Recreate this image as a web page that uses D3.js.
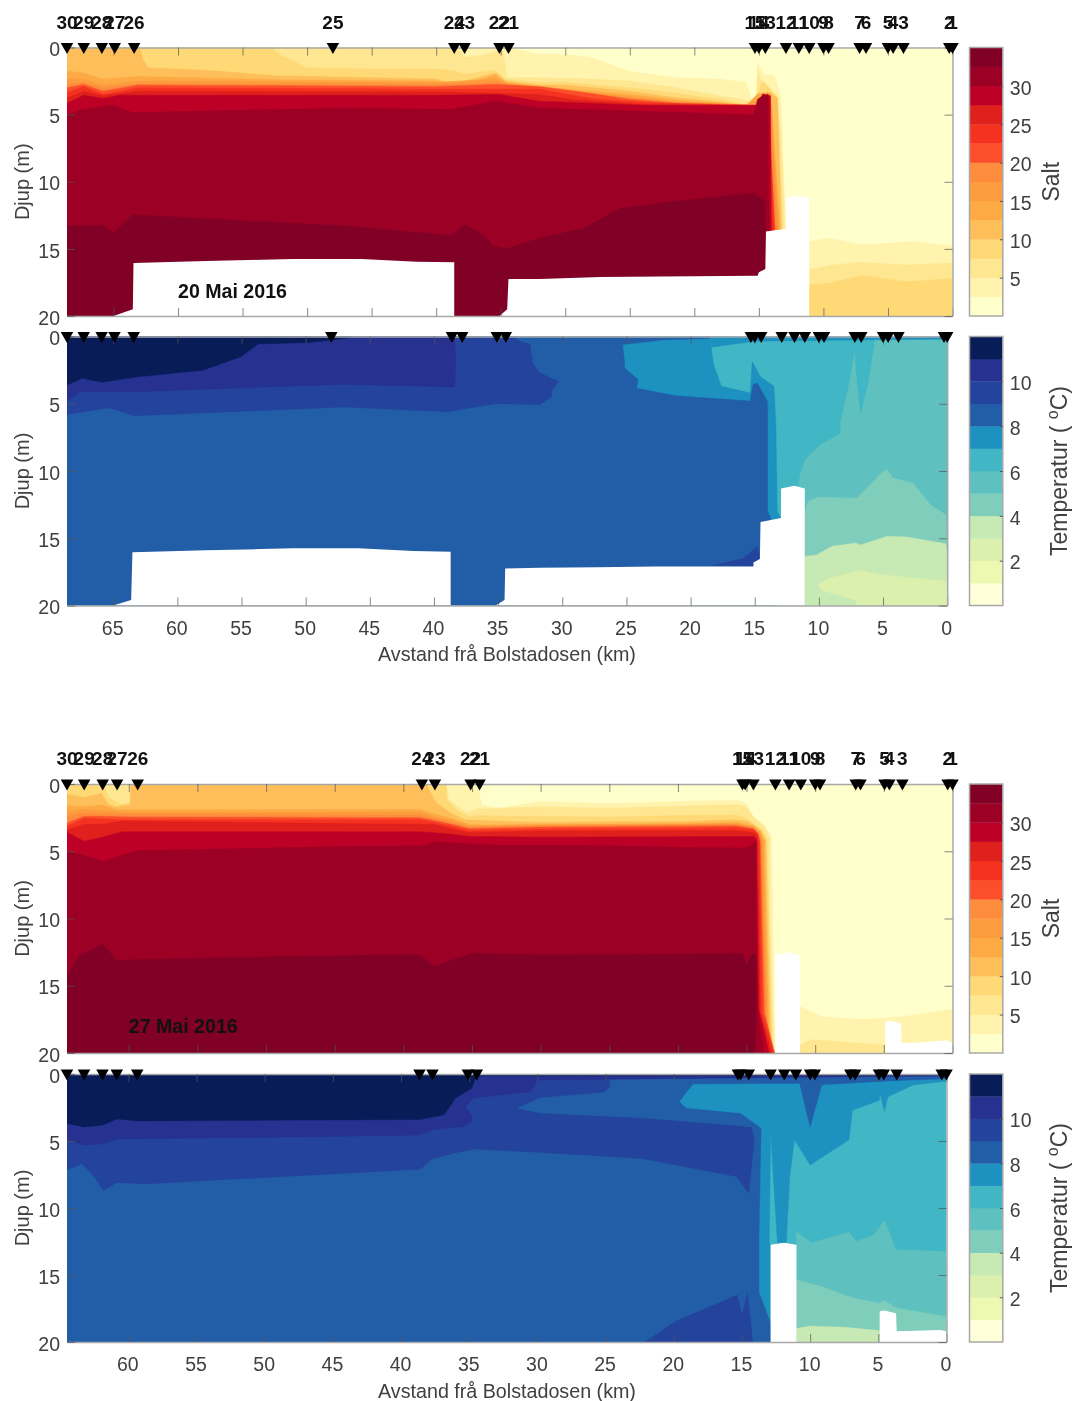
<!DOCTYPE html>
<html><head><meta charset="utf-8">
<script src="https://cdn.jsdelivr.net/npm/d3@7"></script>
<style>
html,body{margin:0;padding:0;background:#fff}
svg{display:block;filter:blur(0.7px)}
text{font-family:"Liberation Sans",Arial,sans-serif}
</style></head><body><div id="c"></div>
<script>
// ---------- colour bands ----------
const saltColors=["#ffffcc","#fff3ad","#fee790","#fed976","#febf5a","#feaa44","#fd9c3e","#fd8d3c","#fc4e2a","#f53220","#e0201c","#bd0026","#9c0025","#800026"];
const tempColors=["#ffffd9","#edf8b1","#dcf0ad","#c7e9b4","#7fcdbb","#5ec0bf","#41b6c4","#1d91c0","#225ea8","#24439c","#27318f","#081d58"];
const saltBandStep=2.5, tempBandStep=1;
const saltTicks=[5,10,15,20,25,30], tempTicks=[2,4,6,8,10];
const depthTicks=[0,5,10,15,20];
const kmTicksMay20=[65,60,55,50,45,40,35,30,25,20,15,10,5,0];
const kmTicksMay27=[60,55,50,45,40,35,30,25,20,15,10,5,0];

// ---------- stations ----------
const stationNames=["30","29","28","27","26","25","24","23","22","21","15","14","13","12","11","10","9","8","7","6","5","4","3","2","1"];
const stationsMay20=[68.6,67.3,65.9,64.9,63.4,48.0,38.6,37.8,35.1,34.4,15.3,15.0,14.5,12.9,11.9,11.1,10.0,9.6,7.2,6.7,5.0,4.6,3.8,0.25,0];
const namesMay27=["30","29","28","27","26","24","23","22","21","15","14","13","12","11","10","9","8","7","6","5","4","3","2","1"];
const stationsMay27=[64.5,63.25,61.9,60.85,59.35,38.65,37.7,35.1,34.45,15.3,15.1,14.5,12.9,11.9,11.05,10,9.65,7.05,6.7,4.95,4.6,3.65,0.35,0];

// ---------- salinity 20 May: [band, [km, depth] boundary], filled down to the floor ----------
const salt20Layers=[
[1,[[68.6,0],[34.5,0],[32,.5],[30,.5],[28,.75],[25.1,1.75],[21.4,2.25],[18,2.35],[16,2.6],[15.6,3.85],[15.2,4.25],[15.1,1.1],[14.6,2],[13.8,2.1],[13.3,3.6],[13.1,8.85],[12.9,13.6]]],
[2,[[68.6,0],[38.3,0],[37.8,.75],[36.4,.6],[35.4,.3],[34.8,.3],[34.5,2.25],[32,2.25],[28,2.35],[25,2.5],[21.4,3],[18,3.6],[16.3,3.85],[15.2,4.25],[15.1,1.6],[14.7,2.9],[13.6,3.5],[13.3,6.4],[13,13.5]]],
[3,[[68.6,0],[52.8,0],[52,.6],[50,1.5],[45,1.6],[40,1.6],[38.6,1.75],[37.8,2],[35.4,1.7],[34.6,2.4],[32,2.6],[30,2.6],[25,3],[21.4,3.4],[18,3.85],[16,4.25],[15.2,4.3],[15.1,3.5],[14.7,2.5],[14.1,3.1],[13.55,3.85],[13.2,13.5]]],
[4,[[68.6,0],[63,0],[62.7,.9],[62.3,1.5],[57.8,1.7],[52.4,2.1],[50,2.15],[40,2.35],[38.6,2.75],[37.8,2.5],[35.4,1.9],[34.6,2.5],[32,2.8],[30,2.8],[25,3.25],[21.4,3.75],[18,4.05],[16,4.3],[15.1,3.5],[14.3,3.3],[13.55,3.75],[13.25,13.5]]],
[5,[[68.6,1.75],[67.3,1.9],[65.8,2.35],[63.1,2.15],[52.4,2.4],[40,2.5],[38.6,2.9],[35.4,2.05],[34.6,2.6],[32,2.9],[25,3.5],[21.4,3.9],[18,4.15],[16,4.35],[15.1,3.45],[14.1,3.45],[13.35,13.5]]],
[6,[[68.6,2.35],[67.3,2.35],[65.8,2.8],[63.1,2.5],[40,2.6],[35.4,2.35],[34.3,2.75],[32,3],[25,3.65],[21.4,4.05],[16,4.3],[14.1,3.5],[13.45,13.5]]],
[7,[[68.6,2.75],[67.4,2.6],[65.8,3],[63.1,2.7],[40,2.75],[35.4,2.6],[33.8,2.8],[32,3.05],[25,3.75],[21.4,4.1],[15.1,4.3],[14.1,3.55],[13.6,13.5]]],
[8,[[68.6,3],[67.3,2.75],[65.8,3.25],[63.1,2.8],[40,2.9],[35.4,2.75],[32,2.9],[28.5,3.35],[25.1,3.85],[21.4,4.15],[15.1,4.3],[14.3,3.4],[13.75,13.5]]],
[9,[[68.6,3.35],[67.3,2.9],[65.8,3.5],[63.1,3],[40,3.1],[32,3.1],[28,3.8],[24,4.1],[15.1,4.35],[14.3,3.45],[13.8,13.5]]],
[10,[[68.6,3.75],[67.3,3.25],[65.8,3.6],[63.1,3.25],[40,3.3],[32,3.5],[29.3,3.9],[24,4.25],[15.1,4.35],[14.35,3.5],[13.95,13.5]]],
[11,[[68.6,4.15],[67.3,3.55],[65.8,3.8],[64.5,3.55],[40,3.55],[35.1,3.5],[32,4],[24,4.3],[15.1,4.3],[14.7,3.45],[14.1,3.6],[14.05,13.6]]],
[12,[[68.6,5],[67.4,4.6],[65,4.3],[63.5,4.85],[47,4.5],[38.9,4.6],[35.4,4],[32,4.5],[24,4.75],[15.4,5],[15.1,3.85],[14.7,3.6],[14.3,3.6],[14.2,13.6]]],
[13,[[68.6,13.3],[65.8,13.25],[65,13.8],[63.5,12.45],[47,13.3],[38.9,14],[37.8,13.2],[36.2,14.05],[35.7,14.7],[34.6,15],[32,14.2],[28.5,13.45],[25.8,12],[21.4,11.45],[15.4,10.85],[14.5,11.5]]],
[1,[[11.1,14.45],[9.6,14.2],[7,14.7],[3,14.45],[0,14.8]]],
[2,[[11.1,16.55],[9.6,16.25],[7.3,16],[3.6,16.2],[0,16.05]]],
[3,[[11.1,17.7],[9.6,17.55],[7,17],[3.6,17.45],[0,17.2]]]
];
const seabed20Salt=[
[[65,20],[63.5,19.5],[63.45,16.05],[57.8,15.9],[51.1,15.75],[45.8,15.75],[41.5,15.95],[38.6,16],[38.6,20]],
[[35.1,20],[34.5,19.5],[34.4,17.25],[32,17.25],[27.2,17.1],[22.7,17.05],[15.1,17],[15,16.75],[14.5,16.5],[14.45,13.7],[12.9,13.5],[12.9,11.2],[11.95,11.05],[11.1,11.2],[11.1,20]]
];

// ---------- temperature 20 May: closed [band, [km, depth]] regions ----------
const temp20Regions=[
[4,[[11.1,13],[10.85,12.25],[10.05,11.95],[7,12],[5.3,10.3],[4.7,9.85],[4.25,10.5],[2.65,10.9],[1.3,12.5],[.1,13.25],[0,15],[0,20],[11.1,20]]],
[3,[[11.1,16.35],[10.2,16.25],[9,15.6],[7.1,15.35],[6.75,15.5],[4.7,14.85],[3.1,14.9],[.1,15.4],[0,16.25],[0,20],[11.1,20]]],
[2,[[10.05,18.5],[9.3,18],[6.75,17.4],[5.3,17.7],[0,18.2],[0,20],[7,20],[7.15,19.6],[9.8,18.85]]],
[6,[[20,0],[5.7,0],[5.7,.6],[6.2,3.6],[6.75,5.7],[7,3.6],[7.2,1],[7.8,4.1],[8.35,6.3],[8.35,7.2],[9.95,8.05],[11.1,9.15],[11.5,10.3],[11.65,11.3],[11.65,20],[20,20]]],
[7,[[68.6,0],[0,0],[0,.2],[5.7,.25],[15,.35],[18.4,.8],[18.2,2.1],[17.6,3.7],[15.35,4.2],[15.2,1.85],[14.55,3],[13.5,3.7],[13.35,6.55],[13.25,13],[13,13.5],[13,20],[68.6,20]]],
[8,[[68.6,0],[18.5,0],[18.5,.15],[22,.25],[25.3,.6],[25.15,1.85],[25.15,2.35],[24.1,3.2],[24.2,3.85],[21.2,4.4],[15.35,4.8],[15.15,3.6],[14.8,3.45],[14,4.85],[14,13],[13.75,13.5],[13.75,20],[68.6,20]]],
[9,[[68.6,0],[33.6,0],[33.6,.25],[32.5,.6],[32.3,2],[32,2.4],[31.75,2.7],[30.3,3.35],[30.8,4],[30.8,4.45],[31.75,5.05],[35.2,5],[39,5.6],[47,5.25],[63.4,5.9],[65.3,5.3],[67,5.55],[68.6,5.8]]],
[9,[[18.25,17],[15.9,16.5],[14.8,15.6],[14.6,16.5],[15.1,17.1]]],
[10,[[68.6,0],[38.4,0],[38.3,1.85],[38.4,3.75],[47,3.55],[63.1,4.1],[67.55,4.1],[68.6,4.8]]],
[11,[[68.6,0],[46.4,0],[46.5,.1],[49.7,.45],[53.7,.55],[55.05,1.5],[58,2.5],[63.1,3],[65.9,3.4],[67.4,3.1],[68.6,3.6]]]
];
const seabed20Temp=[
[[65,20],[63.6,19.6],[63.5,16.05],[57.75,15.9],[51,15.75],[45.9,15.75],[41.6,15.95],[38.7,16],[38.7,20]],
[[35.2,20],[34.5,19.6],[34.45,17.25],[31.75,17.2],[27.25,17.15],[22.75,17.1],[15.1,17.1],[15.1,16.8],[14.6,16.55],[14.55,13.8],[12.95,13.5],[12.95,11.3],[11.9,11.1],[11.1,11.3],[11.1,20]]
];

// ---------- salinity 27 May ----------
const salt27Layers=[
[1,[[64.5,0],[34.6,0],[34.3,1.55],[33,1.8],[30.05,1.3],[25,1.45],[20,1.3],[15.7,1.2],[15,1.45],[14.5,2.4],[13.7,3.05],[13.2,3.9],[13.1,9.1],[13,16.8],[12.9,20]]],
[2,[[64.5,0],[36.9,0],[36.7,1.2],[35.75,1.85],[35.3,2.15],[34.7,1.85],[30.05,1.7],[25,1.8],[20,1.65],[15.7,1.55],[15,1.7],[14.5,2.5],[13.75,3.1],[13.35,3.95],[13.3,9],[13.1,17],[13,20]]],
[3,[[64.5,0],[61.8,0],[61.5,1],[60.6,1.5],[59.9,1.4],[59.85,0],[36.9,0],[36.8,1.2],[36,2],[35.2,2.45],[34.7,2.35],[30.05,2.4],[25,2.45],[20,2.35],[15.8,2.3],[15,2.55],[14.4,3],[13.85,3.4],[13.5,4.1],[13.4,9],[13.2,17],[13.1,20]]],
[4,[[64.5,.75],[63.25,1],[62,.7],[61.5,1.5],[60.9,1.7],[59.9,1.5],[59.85,0],[38.3,0],[38.1,.5],[37.6,1.4],[36.5,2.2],[35.5,2.65],[34.7,2.7],[30.05,2.85],[25,2.8],[20,2.8],[15.8,2.65],[15,2.75],[14.4,3.1],[13.95,3.5],[13.6,4.2],[13.5,9],[13.3,17],[13.2,20]]],
[5,[[64.5,1.6],[63.25,1.7],[62,1.55],[60.9,1.9],[59.9,1.9],[38.8,1.9],[37.8,2.2],[36.5,2.55],[35.2,3],[34,3.05],[30.05,3],[20,2.95],[15.8,2.85],[14.5,3.1],[14,3.5],[13.7,4.2],[13.6,9],[13.4,17],[13.3,20]]],
[6,[[64.5,2],[63.25,1.9],[62,1.95],[60,2.1],[38.8,2.1],[37.8,2.4],[36.5,2.7],[35.2,3.1],[30.05,3.05],[15.8,2.95],[14.5,3.2],[14.05,3.6],[13.8,4.3],[13.7,9],[13.5,17],[13.4,20]]],
[7,[[64.5,2.4],[63.25,2.15],[62,2.2],[60,2.25],[38.8,2.3],[37.8,2.55],[36.5,2.85],[35.2,3.2],[30.05,3.1],[15.8,3],[14.5,3.25],[14.1,3.7],[13.9,4.3],[13.8,9],[13.55,17],[13.45,20]]],
[8,[[64.5,2.9],[63.25,2.4],[62,2.4],[60,2.45],[38.8,2.5],[37.8,2.7],[36.5,3],[35.2,3.3],[30.05,3.2],[15.8,3.1],[14.5,3.3],[14.15,3.7],[14,4.3],[13.9,9],[13.7,17],[12.95,20]]],
[9,[[64.5,3.15],[63.25,2.55],[62,2.6],[60,2.65],[38.8,2.65],[37.8,2.85],[36.5,3.15],[35.2,3.45],[30.05,3.35],[15.8,3.25],[14.5,3.4],[14.2,3.7],[14.05,4.3],[14,9],[13.85,17],[13,20]]],
[10,[[64.5,3.4],[63.25,3],[61.9,3],[60.5,2.75],[38.8,3],[37.8,3],[36.5,3.35],[35.2,3.6],[30.05,3.5],[15.8,3.45],[14.5,3.6],[14.25,3.8],[14.15,4.3],[14.1,9],[14,17],[13.15,20]]],
[11,[[64.5,3.6],[63.25,4.25],[61.9,3.95],[60.5,3.55],[38.8,3.55],[36.8,3.7],[35.2,3.9],[30.05,3.95],[15.8,3.9],[14.5,3.9],[14.3,4.05],[14.2,9],[14.1,16.8],[13.35,20]]],
[12,[[64.5,5],[63.25,5.3],[61.9,5.75],[60.9,5.4],[59.4,4.95],[44.3,4.65],[38.6,4.6],[37.8,4.3],[33,4.55],[30.05,4.55],[25,4.6],[20,4.7],[15.2,4.75],[14.7,4.6],[14.3,4.2],[14.25,13],[14.2,16.8],[13.7,20]]],
[13,[[64.5,14.3],[63.7,12.9],[63.25,12.6],[61.9,11.9],[60.9,13.1],[50,12.85],[38.8,12.7],[37.8,13.55],[35,12.6],[30.05,12.7],[20,12.65],[15.3,12.6],[15,13.5],[14.6,12.6],[14.3,12.7],[14.3,16],[14.4,20]]],
[1,[[11.1,16.55],[9.5,17.3],[6.55,17.5],[4.9,17.4],[3.7,17.3],[1.6,17],[0,16.75]]],
[2,[[11.1,19.4],[10.2,19],[7.8,19.2],[4.9,19.4]]]
];
const seabed27Salt=[
[[12.9,20],[12.9,12.7],[11.9,12.5],[11.1,12.75],[11.1,20]],
[[4.9,20],[4.9,17.65],[4.45,17.6],[3.75,17.8],[3.7,19.25],[2.1,19.2],[.4,19.05],[0,19.25],[0,20]]
];

// ---------- temperature 27 May ----------
const temp27Regions=[
[5,[[11,11.75],[9.9,12.6],[7.15,11.8],[6.65,12.5],[5.3,12],[4.55,10.9],[3.7,13.1],[.05,13.25],[0,14.85],[0,20],[11,20]]],
[4,[[11,15.35],[9.15,15.85],[6.9,16.7],[4.9,17.1],[4.55,16.9],[3.7,17.45],[.05,18.1],[0,18.85],[0,20],[11,20]]],
[3,[[11,19],[10,18.8],[7.4,18.9],[4.9,19.15],[4.9,20],[11,20]]],
[7,[[64.5,0],[0,0],[0,.55],[2.4,.8],[4.3,1.7],[4.55,2.8],[4.9,1.3],[4.9,1.95],[6.9,2.7],[7.15,4.9],[10,6.8],[11.15,4.9],[11.5,7.65],[11.75,12.6],[12.4,12.6],[12.9,4.3],[13,12.7],[12.9,12.7],[12.9,20],[64.5,20]]],
[8,[[64.5,0],[0,0],[0,.35],[4,.5],[9.15,.8],[10,3.95],[10.77,.7],[12,.7],[18.6,.75],[19.6,2.05],[19.1,2.55],[15.1,2.95],[13.6,4.05],[13.75,12],[13.75,16.3],[12.9,18.6],[12.9,20],[64.5,20]]],
[9,[[64.5,0],[24.7,0],[24.7,.95],[25.1,1.35],[29.8,1.75],[31.55,2.55],[29.8,2.95],[22.35,3.3],[15.1,3.9],[14.3,4],[14.1,4.9],[14.5,8.9],[15.4,7.65],[22.35,6.3],[29.8,5.85],[34.6,5.6],[36.1,5.9],[37.7,6.35],[38.6,7.1],[46.7,7.55],[58.8,8.2],[60.85,8.1],[61.85,8.7],[62.5,7.65],[63.4,6.7],[64.5,7.15]]],
[9,[[22.1,20],[19.85,18.45],[15.35,16.5],[15,18],[14.6,16.35],[14.2,20]]],
[10,[[64.5,0],[0,0],[0,.15],[30,.45],[30.5,1.3],[34.7,1.8],[35.3,2.45],[34.85,3.05],[34.8,3.55],[35.35,3.9],[37.7,4.15],[38.6,4.55],[44.2,4.65],[60.85,4.85],[61.85,5.2],[63.25,5.3],[64.5,4.9]]],
[11,[[64.5,0],[0,0],[0,.1],[34.45,.15],[34.6,.45],[34.8,1.05],[36,1.8],[36.85,3.05],[38.6,3.4],[59.3,3.5],[60.85,3.35],[61.85,3.8],[63.25,3.95],[64.5,3.7]]]
];
const seabed27Temp=[
[[12.9,20],[12.9,12.75],[11.9,12.6],[11,12.75],[11,20]],
[[4.9,20],[4.9,17.7],[4.55,17.65],[3.7,17.85],[3.65,19.2],[.45,19.1],[0,19.2],[0,20]]
];

// ---------- build ----------
const svg=d3.select("#c").append("svg").attr("width",1072).attr("height",1401);
const defs=svg.append("defs");
const TEXT="#404040", AXIS="#a8a8a8", TICK_FONT=19.5;
const floorClose=p=>p.concat([[p[p.length-1][0],20],[p[0][0],20]]);
let panelId=0;

function drawPanel(o){
  const x=d3.scaleLinear().domain([o.kmMax,0]).range([o.left,o.right]);
  const y=d3.scaleLinear().domain([0,20]).range([o.top,o.bottom]);
  const line=d3.line().x(d=>x(d[0])).y(d=>y(d[1]));
  const g=svg.append("g");
  const cid="plot"+(panelId++);
  defs.append("clipPath").attr("id",cid).append("rect")
    .attr("x",x(o.kmMax)).attr("y",y(0)).attr("width",x(0)-x(o.kmMax)).attr("height",y(20)-y(0));
  const field=g.append("g").attr("clip-path",`url(#${cid})`);
  field.append("rect").attr("x",x(o.kmMax)).attr("y",y(0)).attr("width",x(0)-x(o.kmMax)).attr("height",y(20)-y(0)).attr("fill",o.colors[o.baseBand]);
  field.selectAll("path.band").data(o.regions).join("path").attr("class","band")
    .attr("d",d=>line(o.closeFloor?floorClose(d[1]):d[1])+"Z")
    .attr("fill",d=>o.colors[d[0]]).attr("stroke",d=>o.colors[d[0]]).attr("stroke-width",0.4);
  field.selectAll("path.bed").data(o.seabed).join("path").attr("class","bed")
    .attr("d",d=>line(d)+"Z").attr("fill","#fff");

  // axes with inward ticks on all sides
  const ax=(gen,tx,ty,hideDomain)=>{
    const a=g.append("g").attr("transform",`translate(${tx},${ty})`).call(gen);
    a.selectAll(".domain").attr("stroke",hideDomain?"none":AXIS).attr("stroke-width",1.5);
    a.selectAll(".tick line").attr("stroke","#555").attr("stroke-width",1).attr("stroke-opacity",.7);
    a.selectAll("text").attr("fill",TEXT).attr("font-size",TICK_FONT).attr("font-family",'"Liberation Sans",Arial,sans-serif');
    return a;
  };
  ax(d3.axisBottom(x).tickValues(o.kmTicks).tickSizeInner(-8).tickSizeOuter(0).tickFormat(o.labelX?d3.format("d"):""),0,o.bottom)
    .selectAll("text").attr("y",15.5).attr("dy",".71em").attr("dx",-1);
  ax(d3.axisTop(x).tickValues(o.kmTicks).tickSizeInner(-8).tickSizeOuter(0).tickFormat(""),0,o.top);
  ax(d3.axisLeft(y).tickValues(depthTicks).tickSizeInner(-8).tickSizeOuter(0).tickFormat(d3.format("d")),o.left,0,true)
    .selectAll("text").attr("x",-7).attr("dy",".42em");
  ax(d3.axisRight(y).tickValues(depthTicks).tickSizeInner(-8).tickSizeOuter(0).tickFormat(""),o.right,0);

  // stations
  g.selectAll("path.st").data(o.stations).join("path").attr("class","st")
    .attr("d",d3.symbol(d3.symbolTriangle,68))
    .attr("transform",d=>`translate(${x(d)},${o.top-0.8}) rotate(180)`).attr("fill","#000");
  if(o.names){
    g.selectAll("text.stn").data(o.stations).join("text").attr("class","stn")
      .attr("x",d=>x(d)).attr("y",o.top-25.5).attr("dy",".36em").attr("text-anchor","middle")
      .attr("font-size",19).attr("font-weight","bold").attr("fill","#111").text((d,i)=>o.names[i]);
  }
  // y label
  const midY=(o.top+o.bottom)/2;
  g.append("text").attr("transform",`translate(22,${midY}) rotate(-90)`).attr("text-anchor","middle").attr("dy",".36em")
    .attr("font-size",20).attr("fill",TEXT).text("Djup (m)");

  // colour bar
  const cbX=969.5, cbW=33.3, n=o.colors.length, step=o.step;
  const cy=d3.scaleLinear().domain([0,n*step]).range([o.bottom,o.top]);
  const cb=g.append("g");
  cb.selectAll("rect").data(o.colors).join("rect").attr("x",cbX).attr("width",cbW)
    .attr("y",(c,i)=>cy((i+1)*step)).attr("height",(c,i)=>cy(i*step)-cy((i+1)*step)+.3).attr("fill",c=>c);
  cb.append("rect").attr("x",cbX).attr("y",o.top).attr("width",cbW).attr("height",o.bottom-o.top).attr("fill","none").attr("stroke",AXIS).attr("stroke-width",1.5);
  const ca=g.append("g").attr("transform",`translate(${cbX+cbW},0)`).call(d3.axisRight(cy).tickValues(o.cbTicks).tickSizeInner(-3).tickSizeOuter(0).tickPadding(7));
  ca.select(".domain").remove();
  ca.selectAll(".tick line").attr("stroke","#555");
  ca.selectAll("text").attr("fill",TEXT).attr("font-size",TICK_FONT).attr("font-family",'"Liberation Sans",Arial,sans-serif').attr("x",7).attr("dy",".42em");
  // colour bar label
  const lab=g.append("text").attr("transform",`translate(${o.cbLabelX},${midY}) rotate(-90)`).attr("text-anchor","middle").attr("dy",".36em")
    .attr("font-size",23).attr("fill",TEXT);
  if(o.kind==="salt") lab.text("Salt");
  else{
    lab.append("tspan").text("Temperatur ( ");
    lab.append("tspan").attr("dy",-9).attr("font-size",16).text("o");
    lab.append("tspan").attr("dy",9).text("C)");
  }
  if(o.labelX){
    g.append("text").attr("x",507).attr("y",o.bottom+48.5).attr("dy",".36em").attr("text-anchor","middle").attr("font-size",19.7).attr("fill",TEXT).text("Avstand frå Bolstadosen (km)");
  }
  if(o.date){
    g.append("text").attr("x",x(o.date[1])).attr("y",y(o.date[2])).attr("dy",".36em").attr("font-size",19.6).attr("font-weight","bold").attr("fill","#111").text(o.date[0]);
  }
}

drawPanel({kind:"salt",kmMax:68.6,left:67,right:952.5,top:47.5,bottom:316,colors:saltColors,step:saltBandStep,cbTicks:saltTicks,baseBand:0,regions:salt20Layers,closeFloor:true,seabed:seabed20Salt,kmTicks:kmTicksMay20,labelX:false,stations:stationsMay20,names:stationNames,cbLabelX:1051,date:["20 Mai 2016",60,18.1]});
drawPanel({kind:"temp",kmMax:68.6,left:67,right:947.2,top:336.5,bottom:605.5,colors:tempColors,step:tempBandStep,cbTicks:tempTicks,baseBand:5,regions:temp20Regions,closeFloor:false,seabed:seabed20Temp,kmTicks:kmTicksMay20,labelX:true,stations:stationsMay20,names:null,cbLabelX:1059});
drawPanel({kind:"salt",kmMax:64.5,left:67,right:952.5,top:784,bottom:1053,colors:saltColors,step:saltBandStep,cbTicks:saltTicks,baseBand:0,regions:salt27Layers,closeFloor:true,seabed:seabed27Salt,kmTicks:kmTicksMay27,labelX:false,stations:stationsMay27,names:namesMay27,cbLabelX:1051,date:["27 Mai 2016",60,18]});
drawPanel({kind:"temp",kmMax:64.5,left:67,right:946.5,top:1074,bottom:1342,colors:tempColors,step:tempBandStep,cbTicks:tempTicks,baseBand:6,regions:temp27Regions,closeFloor:false,seabed:seabed27Temp,kmTicks:kmTicksMay27,labelX:true,stations:stationsMay27,names:null,cbLabelX:1059});
</script></body></html>
